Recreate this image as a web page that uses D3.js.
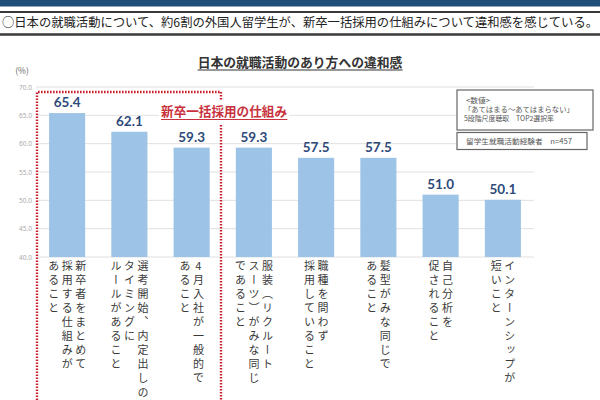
<!DOCTYPE html>
<html><head><meta charset="utf-8">
<script src="https://cdn.jsdelivr.net/npm/d3@7/dist/d3.min.js"></script>
<style>
body{margin:0;background:#fff}
svg{display:block}
.jp{font-family:"Noto Sans CJK JP","Noto Sans",sans-serif}
.vlab{writing-mode:vertical-rl;text-orientation:upright}
</style></head><body>
<svg id="c" width="600" height="400"></svg>
<script>
const headline = "○日本の就職活動について、約6割の外国人留学生が、新卒一括採用の仕組みについて違和感を感じている。";
const chartTitle = "日本の就職活動のあり方への違和感";
const unitLabel = "(%)";
const groupLabel = "新卒一括採用の仕組み";
const noteLines = ["<数値>", "「あてはまる～あてはまらない」", "5段階尺度聴取　TOP2選択率"];
const sampleNote = "留学生就職活動経験者　n=457";
const categories = [
  ["新卒者をまとめて", "採用する仕組みが", "あること"],
  ["選考開始、内定出しの", "タイミングに", "ルールがあること"],
  ["4月入社が一般的で", "あること"],
  ["服装（リクルート", "スーツ）がみな同じ", "であること"],
  ["職種を問わず", "採用していること"],
  ["髪型がみな同じで", "あること"],
  ["自己分析を", "促されること"],
  ["インターンシップが", "短いこと"]
];
const values = [65.4, 62.1, 59.3, 59.3, 57.5, 57.5, 51.0, 50.1];
const yTicks = [40, 45, 50, 55, 60, 65, 70];

const svg = d3.select("#c");

// header
svg.append("rect").attr("x",0).attr("y",0).attr("width",600).attr("height",6.5).attr("fill","#1f4e79");
svg.append("line").attr("x1",0).attr("x2",600).attr("y1",12).attr("y2",12).attr("stroke","#3a3a3a").attr("stroke-width",2);
svg.append("line").attr("x1",0).attr("x2",600).attr("y1",34.5).attr("y2",34.5).attr("stroke","#3a3a3a").attr("stroke-width",2.5);
svg.append("text").attr("class","jp").attr("x",2).attr("y",27)
  .attr("font-size",12.3).attr("fill","#222").attr("textLength",596).attr("lengthAdjust","spacingAndGlyphs")
  .text(headline);

// chart title
const tt = svg.append("text").attr("class","jp").attr("x",300).attr("y",67).attr("text-anchor","middle")
  .attr("font-size",12.8).attr("font-weight","bold").attr("fill","#333").text(chartTitle);
const tb = tt.node().getBBox();
svg.append("line").attr("x1",tb.x).attr("x2",tb.x+tb.width).attr("y1",70).attr("y2",70).attr("stroke","#333").attr("stroke-width",1.2);

// scales
const x = d3.scaleBand().domain(d3.range(values.length)).range([36,534]).paddingInner(0.42).paddingOuter(0.21);
const y = d3.scaleLinear().domain([40,70]).range([257,87]);

// unit
svg.append("text").attr("class","jp").attr("x",22).attr("y",74).attr("text-anchor","middle")
  .attr("font-size",8.5).attr("fill","#666").text(unitLabel);

// grid
svg.append("g").selectAll("line").data(yTicks).join("line")
  .attr("x1",36).attr("x2",534).attr("y1",d=>y(d)).attr("y2",d=>y(d))
  .attr("stroke","#e0e0e0").attr("stroke-width",1);

// y axis
const yAxis = d3.axisLeft(y).tickValues(yTicks).tickFormat(d3.format(".1f")).tickSize(0).tickPadding(4);
const ya = svg.append("g").attr("transform","translate(32,0)").call(yAxis);
ya.select(".domain").remove();
ya.selectAll("text").attr("font-family","Noto Sans, sans-serif").attr("font-size",6.5).attr("fill","#aaa").attr("x",0);

// bars
svg.append("g").selectAll("rect").data(values).join("rect")
  .attr("x",(d,i)=>x(i)).attr("width",x.bandwidth())
  .attr("y",d=>y(d)).attr("height",d=>y(40)-y(d)).attr("fill","#9dc3e6");

// value labels
svg.append("g").selectAll("text").data(values).join("text")
  .attr("x",(d,i)=>x(i)+x.bandwidth()/2).attr("y",d=>y(d)-6)
  .attr("text-anchor","middle").attr("font-family","Lato, 'Noto Sans', sans-serif")
  .attr("font-weight","bold").attr("font-size",13.5).attr("fill","#2e4a7a")
  .text(d=>d3.format(".1f")(d));

// category labels (vertical)
const colStep = 13.5;
const cg = svg.append("g");
categories.forEach((lines,i)=>{
  const cx = x(i)+x.bandwidth()/2;
  const n = lines.length;
  lines.forEach((ln,j)=>{
    const px = cx + ((n-1)/2 - j)*colStep;
    cg.append("text").attr("class","jp vlab").attr("x",px).attr("y",260)
      .attr("font-size",11).attr("letter-spacing",3.1).attr("fill","#3a3a3a").text(ln);
  });
});

// red dotted group box
const gx0 = 37, gx1 = 221;
svg.append("path").attr("d",`M${gx0},400 V92 H${gx1} V400`).attr("fill","none")
  .attr("stroke","#c8202a").attr("stroke-width",2.4).attr("stroke-dasharray","1.6,1.4");

// group label with white backing
const lg = svg.append("g");
const bgRect = lg.append("rect").attr("fill","#fff");
const gl = lg.append("text").attr("class","jp").attr("x",224).attr("y",116).attr("text-anchor","middle")
  .attr("font-size",12.6).attr("font-weight","bold").attr("fill","#c8323c").text(groupLabel);
const gb = gl.node().getBBox();
bgRect.attr("x",gb.x-2).attr("y",gb.y).attr("width",gb.width+4).attr("height",gb.height+4);
lg.append("line").attr("x1",gb.x).attr("x2",gb.x+gb.width).attr("y1",119.5).attr("y2",119.5).attr("stroke","#c8323c").attr("stroke-width",1.1);

// note boxes
const noteWidths = [24, 110, 90];
svg.append("rect").attr("x",457).attr("y",90).attr("width",136).attr("height",40).attr("fill","#fff").attr("stroke","#666").attr("stroke-width",1.2);
svg.append("rect").attr("x",457).attr("y",132.5).attr("width",130).attr("height",17).attr("fill","#fff").attr("stroke","#666").attr("stroke-width",1.2);
svg.append("g").selectAll("text").data(noteLines).join("text").attr("class","jp")
  .attr("x",(d,i)=>i===0?466:464).attr("y",(d,i)=>102.5+i*9)
  .attr("font-size",7).attr("fill","#555")
  .attr("textLength",(d,i)=>noteWidths[i]).attr("lengthAdjust","spacingAndGlyphs")
  .text(d=>d);
svg.append("text").attr("class","jp").attr("x",466).attr("y",144).attr("font-size",7.2).attr("fill","#555")
  .attr("textLength",106).attr("lengthAdjust","spacingAndGlyphs").text(sampleNote);
</script>
</body></html>
